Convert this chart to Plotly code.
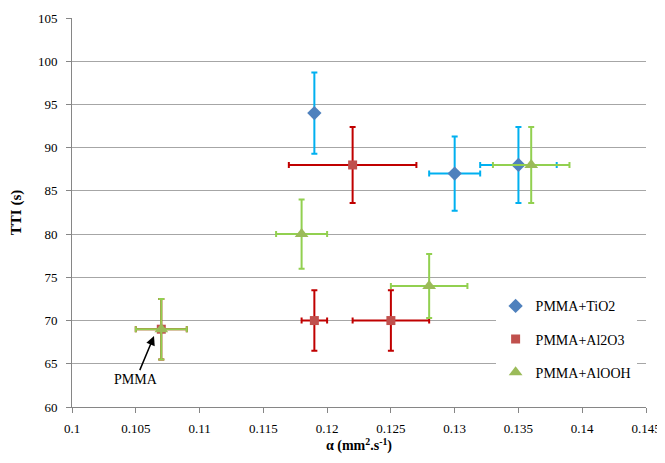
import plotly.graph_objects as go

# TiO2 series
tio2_x = [0.119, 0.130, 0.135]
tio2_y = [94, 87, 88]
tio2_xerr = [0, 0.002, 0.003]
tio2_yerr = [4.7, 4.3, 4.4]

# Al2O3 series
al2o3_x = [0.107, 0.122, 0.119, 0.125]
al2o3_y = [69, 88, 70, 70]
al2o3_xerr = [0.002, 0.005, 0.001, 0.003]
al2o3_yerr = [3.5, 4.4, 3.5, 3.5]

# AlOOH series
alooh_x = [0.107, 0.118, 0.128, 0.136]
alooh_y = [69, 80, 74, 88]
alooh_xerr = [0.002, 0.002, 0.003, 0.003]
alooh_yerr = [3.5, 4.0, 3.7, 4.4]

FONT = "Liberation Serif"

fig = go.Figure()

def add(name, x, y, xe, ye, mcolor, ecolor, symbol, size, grp):
    fig.add_trace(go.Scatter(
        x=x, y=y, mode="markers", name=name, legendgroup=grp,
        marker=dict(color=mcolor, symbol=symbol, size=size, line=dict(width=0)),
        error_x=dict(type="data", array=xe, color=ecolor, thickness=2, width=3, visible=True),
        error_y=dict(type="data", array=ye, color=ecolor, thickness=2, width=3, visible=True),
    ))

add("PMMA+TiO2", tio2_x, tio2_y, tio2_xerr, tio2_yerr, "#4F81BD", "#00B0F0", "diamond", 11, "a")
add("PMMA+Al2O3", al2o3_x, al2o3_y, al2o3_xerr, al2o3_yerr, "#C0504D", "#C00000", "square", 9, "b")
add("PMMA+AlOOH", alooh_x, alooh_y, alooh_xerr, alooh_yerr, "#9BBB59", "#92D050", "triangle-up", 12, "c")

fig.add_annotation(
    x=0.10643, y=68.2, xref="x", yref="y",
    text="PMMA", showarrow=True, arrowhead=2, arrowsize=1.2, arrowwidth=1.5,
    arrowcolor="black", ax=-18, ay=43,
    font=dict(family=FONT, size=14, color="black"),
)

fig.update_layout(
    width=657, height=455,
    margin=dict(l=64, r=19, t=10, b=56, autoexpand=False),
    paper_bgcolor="white", plot_bgcolor="white",
    font=dict(family=FONT, size=13, color="black"),
    showlegend=True,
    legend=dict(
        x=0.738, y=0.300, xanchor="left", yanchor="top",
        bgcolor="white", borderwidth=0,
        font=dict(family=FONT, size=14, color="black"),
        tracegroupgap=12,
    ),
    xaxis=dict(
        range=[0.1, 0.145], dtick=0.005, tick0=0.1,
        showgrid=False, zeroline=False, automargin=False,
        showline=True, linecolor="#868686", linewidth=1,
        ticks="outside", ticklen=5, tickcolor="#868686",
        ticklabelstandoff=4,
        tickfont=dict(family=FONT, size=13),
        title=dict(text="α (mm<sup>2</sup>.s<sup>-1</sup>)",
                   font=dict(family=FONT, size=14, weight="bold"), standoff=5),
    ),
    yaxis=dict(
        range=[60, 105], dtick=5, tick0=60,
        showgrid=True, gridcolor="#A6A6A6", gridwidth=1, zeroline=False, automargin=False,
        showline=True, linecolor="#868686", linewidth=1,
        ticks="outside", ticklen=5, tickcolor="#868686",
        ticklabelstandoff=6,
        tickfont=dict(family=FONT, size=13),
        title=dict(text="TTI (s)", font=dict(family=FONT, size=15, weight="bold"), standoff=20),
    ),
)

fig.write_html("out.html")
